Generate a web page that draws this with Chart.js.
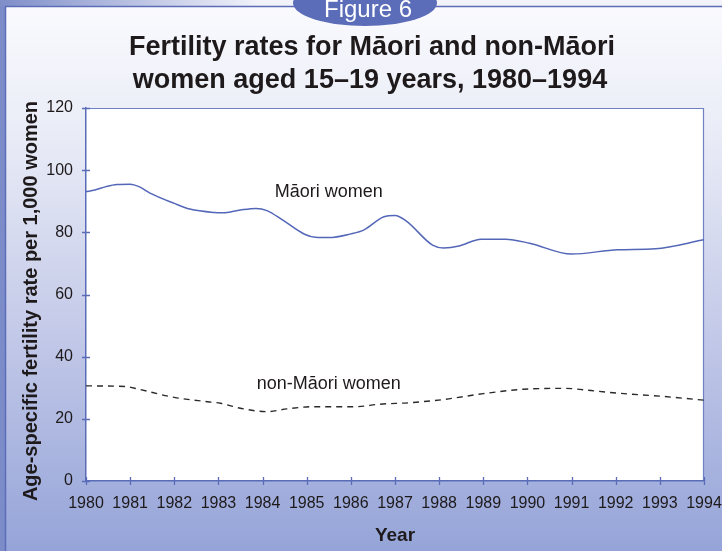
<!DOCTYPE html>
<html><head><meta charset="utf-8">
<script src="https://cdn.jsdelivr.net/npm/chart.js@4.4.0/dist/chart.umd.min.js"></script>
<style>html,body{margin:0;padding:0;background:#fff;overflow:hidden}canvas{display:block}</style>
</head><body>
<canvas id="c" width="722" height="551"></canvas>
<script>
const titleLines = ['Fertility rates for Māori and non-Māori', 'women aged 15–19 years, 1980–1994'];
const yearTicks = [1980,1981,1982,1983,1984,1985,1986,1987,1988,1989,1990,1991,1992,1993,1994];
const rateTicks = [0,20,40,60,80,100,120];
const maoriYears = [1980.0,1980.2,1980.45,1980.7,1981.0,1981.2,1981.45,1982.0,1982.35,1982.9,1983.1,1983.5,1983.85,1984.1,1984.45,1984.95,1985.2,1985.5,1986.0,1986.3,1986.75,1987.0,1987.25,1987.85,1988.1,1988.45,1988.95,1989.5,1990.05,1991.0,1992.05,1992.9,1994.0];
const maoriRates = [93.1,93.6,94.7,95.4,95.5,94.7,92.6,89.3,87.5,86.4,86.3,87.2,87.7,87.0,84.0,79.4,78.4,78.3,79.5,80.8,85.0,85.4,83.7,75.9,75.0,75.6,77.8,77.8,76.5,73.0,74.4,74.7,77.6];
const nonMaoriYears = [1980.0,1980.9,1981.2,1982.0,1982.75,1983.05,1983.5,1984.1,1984.55,1985.15,1986.1,1986.65,1987.35,1988.15,1988.9,1989.9,1990.85,1991.5,1992.1,1993.0,1994.0];
const nonMaoriRates = [30.6,30.4,29.5,26.9,25.5,25.0,23.4,22.3,23.2,23.9,23.9,24.7,25.2,26.3,27.9,29.5,29.8,29.0,28.2,27.3,26.0];
const seriesLabels = ['Māori women', 'non-Māori women'];
const xTitle = 'Year';
const yTitle = 'Age-specific fertility rate per 1,000 women';
const tabText = 'Figure 6';

const toPts = (xs, ys) => xs.map((x, i) => ({x: x, y: ys[i]}));
const BLUE = '#5a6cb8';
const FONT = '"Liberation Sans", Arial, Helvetica, sans-serif';

const decor = {
  id: 'decor',
  beforeDraw(chart) {
    const ctx = chart.ctx, W = chart.width, H = chart.height, a = chart.chartArea;
    ctx.save();
    ctx.fillStyle = '#7c8cc8';
    ctx.fillRect(0, 0, W, H);
    const tg = ctx.createLinearGradient(0, 0, 260, 0);
    tg.addColorStop(0, '#7f8ec9'); tg.addColorStop(1, '#f2f3fa');
    ctx.fillStyle = tg; ctx.fillRect(0, 0, W, 6);
    const g = ctx.createLinearGradient(0, 6, 0, H);
    g.addColorStop(0, '#fafafe');
    g.addColorStop(0.25, '#e8ebf6');
    g.addColorStop(0.6, '#c3c9e8');
    g.addColorStop(1, '#95a4d8');
    ctx.fillStyle = g;
    ctx.fillRect(5, 6, W - 5, H - 6);
    ctx.strokeStyle = '#5b6db8'; ctx.lineWidth = 1.5;
    ctx.beginPath(); ctx.moveTo(5.5, H); ctx.lineTo(5.5, 6.5); ctx.lineTo(W, 6.5); ctx.stroke();
    ctx.fillStyle = '#5b6db8';
    ctx.beginPath(); ctx.ellipse(365, 3, 72, 23, 0, 0, Math.PI * 2); ctx.fill();
    ctx.fillStyle = '#ffffff';
    ctx.font = '24px ' + FONT; ctx.textAlign = 'center'; ctx.textBaseline = 'alphabetic';
    ctx.fillText(tabText, 368, 17);
    ctx.fillStyle = '#1e1a1b';
    ctx.font = 'bold 27px ' + FONT; ctx.textBaseline = 'middle';
    ctx.fillText(titleLines[0], 372, 48);
    ctx.fillText(titleLines[1], 370, 81);
    ctx.save();
    ctx.translate(31, 301); ctx.rotate(-Math.PI / 2);
    ctx.font = 'bold 20px ' + FONT;
    ctx.fillText(yTitle, 0, 0);
    ctx.restore();
    ctx.fillStyle = '#ffffff';
    ctx.fillRect(a.left, a.top, a.right - a.left, a.bottom - a.top);
    ctx.strokeStyle = '#7080c4'; ctx.lineWidth = 1.2;
    ctx.beginPath(); ctx.moveTo(a.left, a.top + 0.5); ctx.lineTo(a.right - 0.5, a.top + 0.5); ctx.lineTo(a.right - 0.5, a.bottom); ctx.stroke();
    ctx.restore();
  },
  afterDraw(chart) {
    const ctx = chart.ctx, a = chart.chartArea, xs = chart.scales.x, ys = chart.scales.y;
    ctx.save();
    ctx.strokeStyle = BLUE; ctx.lineWidth = 1.3;
    ctx.beginPath();
    ys.ticks.forEach(t => { const p = Math.round(ys.getPixelForValue(t.value)) + 0.5; ctx.moveTo(a.left - 4, p); ctx.lineTo(a.left + 4, p); });
    xs.ticks.forEach(t => { const p = Math.round(xs.getPixelForValue(t.value)) + 0.5; ctx.moveTo(p, a.bottom - 4); ctx.lineTo(p, a.bottom + 4); });
    ctx.stroke();
    ctx.fillStyle = '#1e1a1b';
    ctx.font = '18px ' + FONT; ctx.textAlign = 'center'; ctx.textBaseline = 'middle';
    ctx.fillText(seriesLabels[0], xs.getPixelForValue(1985.5), ys.getPixelForValue(93));
    ctx.fillText(seriesLabels[1], xs.getPixelForValue(1985.5), ys.getPixelForValue(31.2));
    ctx.restore();
  }
};

new Chart(document.getElementById('c'), {
  type: 'line',
  data: {
    datasets: [
      { label: seriesLabels[0], data: toPts(maoriYears, maoriRates), borderColor: '#5366b8', borderWidth: 1.5, pointRadius: 0, cubicInterpolationMode: 'monotone', fill: false },
      { label: seriesLabels[1], data: toPts(nonMaoriYears, nonMaoriRates), borderColor: '#2a2a2a', borderWidth: 1.4, borderDash: [6, 5], pointRadius: 0, cubicInterpolationMode: 'monotone', fill: false }
    ]
  },
  options: {
    responsive: false, animation: false, devicePixelRatio: 1,
    layout: { padding: { left: 0, right: 18, top: 108, bottom: 0 } },
    plugins: { legend: { display: false }, tooltip: { enabled: false }, title: { display: false } },
    scales: {
      x: {
        type: 'linear', min: 1980, max: 1994,
        afterFit: s => { s.height = 70; s.paddingLeft = 0; s.paddingRight = 0; },
        afterBuildTicks: s => { s.ticks = yearTicks.map(v => ({value: v})); },
        ticks: { callback: v => String(v), color: '#1e1a1b', font: { family: FONT, size: 16 }, padding: 13, maxRotation: 0, autoSkip: false },
        grid: { display: false, drawTicks: false },
        border: { display: true, color: BLUE, width: 1.5 },
        title: { display: true, text: xTitle, color: '#1e1a1b', font: { family: FONT, size: 19, weight: 'bold' }, padding: { top: 0, bottom: 4 } }
      },
      y: {
        min: 0, max: 120,
        afterFit: s => { s.width = 86; s.paddingTop = 0; s.paddingBottom = 0; },
        afterBuildTicks: s => { s.ticks = rateTicks.map(v => ({value: v})); },
        ticks: { color: '#1e1a1b', font: { family: FONT, size: 16 }, padding: 13 },
        grid: { display: false, drawTicks: false },
        border: { display: true, color: BLUE, width: 1.5 }
      }
    }
  },
  plugins: [decor]
});
</script>
</body></html>
